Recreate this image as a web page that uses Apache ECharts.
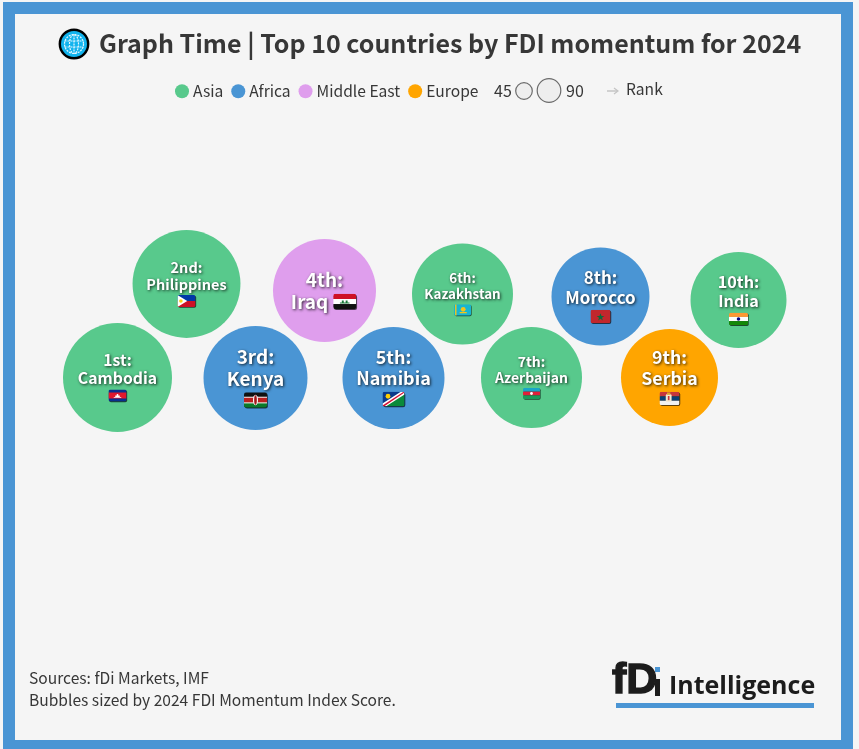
<!DOCTYPE html>
<html>
<head>
<meta charset="utf-8">
<title>Graph Time</title>
<script src="https://cdn.jsdelivr.net/npm/echarts@6/dist/echarts.min.js"></script>
<style>
  html, body { margin: 0; padding: 0; background: #f5f5f5; overflow: hidden; }
  #frame { position: absolute; left: 3px; top: 2px; width: 826px; height: 726px; border: 12px solid #4a95d4; border-bottom-width: 20px; }
  #chart { position: absolute; left: 0; top: 0; width: 859px; height: 749px; }
</style>
</head>
<body>
<div id="frame"></div>
<div id="chart"></div>
<script>
// chart values
var countries = ['Cambodia', 'Philippines', 'Kenya', 'Iraq', 'Namibia', 'Kazakhstan', 'Azerbaijan', 'Morocco', 'Serbia', 'India'];
var ranks = [1, 2, 3, 4, 5, 6, 7, 8, 9, 10];
var rankLabels = ['1st:', '2nd:', '3rd:', '4th:', '5th:', '6th:', '7th:', '8th:', '9th:', '10th:'];
var regions = ['Asia', 'Asia', 'Africa', 'Middle East', 'Africa', 'Asia', 'Asia', 'Africa', 'Europe', 'Asia'];
var scores = [100, 98, 91, 89.3, 87.6, 85.9, 85.9, 80.8, 79.2, 77.6];
var swarmY = [222.5, 316, 222, 309.5, 222, 306, 222.5, 303.5, 222.5, 300];
var regionNames = ['Asia', 'Africa', 'Middle East', 'Europe'];

// styles
var regionColors = { 'Asia': '#58c98c', 'Africa': '#4a95d4', 'Middle East': '#df9eed', 'Europe': '#ffa500' };
var labelFonts = [15.8, 14.5, 19, 19, 18, 13.4, 14, 17, 17.8, 16.2];
var flagWidths = [18, 18, 23, 23, 22, 17, 17, 20, 20, 19];
var textFont = '"Noto Sans CJK SC", "Noto Sans", sans-serif';
var darkText = '#373737';

// little flags, 24x16 with a soft shadow around them
var flagArt = {
  Cambodia: '<rect width="24" height="16" fill="#0a2f8f"/><rect y="4" width="24" height="8" fill="#e0182d"/><path d="M7 10h10v1H7zM9 8h6v2H9zM11 6h2v2h-2z" fill="#fff"/>',
  Philippines: '<rect width="24" height="8" fill="#0038a8"/><rect y="8" width="24" height="8" fill="#ce1126"/><path d="M0 0L13 8L0 16z" fill="#fff"/><circle cx="4.5" cy="8" r="2.4" fill="#fcd116"/>',
  Kenya: '<rect width="24" height="16" fill="#111"/><rect y="5" width="24" height="6" fill="#bb1f1f"/><rect y="11" width="24" height="5" fill="#0a7a2a"/><rect y="4.6" width="24" height="1" fill="#fff"/><rect y="10.5" width="24" height="1" fill="#fff"/><ellipse cx="12" cy="8" rx="2.6" ry="5.5" fill="#fff"/><ellipse cx="12" cy="8" rx="1.4" ry="5" fill="#a01818"/>',
  Iraq: '<rect width="24" height="5.4" fill="#ce1126"/><rect y="5.4" width="24" height="5.3" fill="#fff"/><rect y="10.7" width="24" height="5.3" fill="#111"/><path d="M7 9h10v1H7zM9 7h2v2H9zM13 7h2v2h-2z" fill="#1a7a3a"/>',
  Namibia: '<rect width="24" height="16" fill="#0a3a8a"/><path d="M24 0V16H0z" fill="#0a8a3a"/><path d="M0 13L20 0H24V3L4 16H0z" fill="#fff"/><path d="M0 15L23 0H24V1L2 16H0z" fill="#d21034"/><circle cx="6" cy="5" r="2.6" fill="#ffce00"/>',
  Kazakhstan: '<rect width="24" height="16" fill="#19b5d0"/><rect x="1.5" width="2" height="16" fill="#f5c518"/><circle cx="13" cy="7" r="3.4" fill="#f5c518"/><path d="M8 11h10v1.5H8z" fill="#f5c518"/>',
  Azerbaijan: '<rect width="24" height="5.4" fill="#18a5c8"/><rect y="5.4" width="24" height="5.3" fill="#e0203a"/><rect y="10.7" width="24" height="5.3" fill="#1a9a5a"/><circle cx="12" cy="8" r="2" fill="#fff"/>',
  Morocco: '<rect width="24" height="16" fill="#c1272d"/><path d="M12 4.2l1.2 3.3h3.4l-2.8 2 1 3.3-2.8-2-2.8 2 1-3.3-2.8-2h3.4z" fill="#0a6a3a"/>',
  Serbia: '<rect width="24" height="5.4" fill="#c6363c"/><rect y="5.4" width="24" height="5.3" fill="#0c4076"/><rect y="10.7" width="24" height="5.3" fill="#f2f2f2"/><rect x="7.5" y="3" width="7" height="9" rx="1.5" fill="#f4e9d0"/><rect x="9" y="0.8" width="4" height="2.6" fill="#e0a72a"/><rect x="10" y="5" width="2" height="5" fill="#c6363c"/>',
  India: '<rect width="24" height="5.4" fill="#ff9933"/><rect y="5.4" width="24" height="5.3" fill="#fff"/><rect y="10.7" width="24" height="5.3" fill="#138808"/><circle cx="12" cy="8" r="2.2" fill="#000080"/>'
};

function flagUrl(name){
  var svg = '<svg xmlns="http://www.w3.org/2000/svg" width="84" height="60" viewBox="-2 -2 28 20">'
    + '<defs><filter id="b" x="-20%" y="-20%" width="140%" height="140%"><feGaussianBlur stdDeviation="0.7"/></filter>'
    + '<clipPath id="c"><rect width="24" height="16" rx="2.4"/></clipPath></defs>'
    + '<rect x="0.9" y="0.9" width="24" height="16" rx="2.4" fill="#000" opacity="0.65" filter="url(#b)"/>'
    + '<g clip-path="url(#c)">' + flagArt[name] + '</g></svg>';
  return 'data:image/svg+xml;charset=utf-8,' + encodeURIComponent(svg);
}

function labelFor(i){
  var size = labelFonts[i];
  var w = flagWidths[i] * 28 / 24;
  var lh = Math.round(size * 1.17);
  var shadow = { textShadowColor: 'rgba(0,0,0,0.8)', textShadowBlur: 3, textShadowOffsetX: 1, textShadowOffsetY: 1 };
  var textStyle = Object.assign({ color: '#fff', fontFamily: textFont, fontWeight: 700, fontSize: size, lineHeight: lh }, shadow);
  var inline = countries[i] == 'Iraq';
  var text = '{t|' + rankLabels[i] + '}\n{t|' + countries[i] + '}' + (inline ? '{g| }{f| }' : '\n{f| }');
  return {
    show: true,
    position: 'inside',
    align: 'center',
    verticalAlign: 'middle',
    formatter: text,
    rich: {
      t: textStyle,
      g: { width: 3, fontSize: size, lineHeight: lh },
      f: { width: w, height: w * 20 / 28, lineHeight: w * 20 / 28 + 2, backgroundColor: { image: flagUrl(countries[i]) } }
    }
  };
}

var series = regionNames.map(function(region){
  var data = [];
  for(var i = 0; i < countries.length; i++) {
    if(regions[i] == region) {
      data.push({ name: countries[i], value: [ranks[i], swarmY[i], scores[i]], label: labelFor(i) });
    }
  }
  return {
    name: region,
    type: 'scatter',
    silent: true,
    symbolSize: function(v){ return Math.sqrt(v[2]) * 10.9; },
    itemStyle: { color: regionColors[region], opacity: 1 },
    data: data
  };
});

// title, size key, footer and logo
var graphics = [
  // globe
  { type: 'circle', shape: { cx: 74, cy: 44, r: 14.2 }, style: { fill: '#12b4ee', stroke: '#000', lineWidth: 2.4 } },
  { type: 'circle', shape: { cx: 74, cy: 44, r: 9.5 }, style: { fill: 'none', stroke: '#e6f7ff', lineWidth: 1.2, lineDash: [2, 1] } },
  { type: 'ellipse', shape: { cx: 74, cy: 44, rx: 4.5, ry: 9.5 }, style: { fill: 'none', stroke: '#e6f7ff', lineWidth: 1.2, lineDash: [2, 1] } },
  { type: 'line', shape: { x1: 74, y1: 34.5, x2: 74, y2: 53.5 }, style: { stroke: '#e6f7ff', lineWidth: 1.2, lineDash: [2, 1] } },
  { type: 'line', shape: { x1: 64.5, y1: 41, x2: 83.5, y2: 41 }, style: { stroke: '#e6f7ff', lineWidth: 1.2, lineDash: [2, 1] } },
  { type: 'line', shape: { x1: 64.5, y1: 47, x2: 83.5, y2: 47 }, style: { stroke: '#e6f7ff', lineWidth: 1.2, lineDash: [2, 1] } },
  // size key
  { type: 'text', style: { x: 494, y: 90.5, text: '45', fill: darkText, font: '16px ' + textFont, verticalAlign: 'middle' } },
  { type: 'circle', shape: { cx: 524, cy: 91, r: 8.3 }, style: { fill: '#eeeeee', stroke: '#6b6b6b', lineWidth: 1.2 } },
  { type: 'circle', shape: { cx: 549, cy: 90.5, r: 11.8 }, style: { fill: '#eeeeee', stroke: '#6b6b6b', lineWidth: 1.2 } },
  { type: 'text', style: { x: 566, y: 90.5, text: '90', fill: darkText, font: '16px ' + textFont, verticalAlign: 'middle' } },
  { type: 'line', shape: { x1: 607, y1: 91, x2: 617, y2: 91 }, style: { stroke: '#c4c4c4', lineWidth: 1.5 } },
  { type: 'polyline', shape: { points: [[614, 88], [618, 91], [614, 94]] }, style: { fill: 'none', stroke: '#c4c4c4', lineWidth: 1.2 } },
  { type: 'text', style: { x: 626, y: 89, text: 'Rank', fill: darkText, font: '15.6px ' + textFont, verticalAlign: 'middle' } },
  // footer
  { type: 'text', style: { x: 29, y: 678, text: 'Sources: fDi Markets, IMF', fill: darkText, font: '15.6px ' + textFont, verticalAlign: 'middle' } },
  { type: 'text', style: { x: 29, y: 700, text: 'Bubbles sized by 2024 FDI Momentum Index Score.', fill: darkText, font: '15.6px ' + textFont, verticalAlign: 'middle' } },
  // logo
  { type: 'text', style: { x: 612, y: 681, text: 'fD', fill: '#1c1c1c', font: '700 43px "Liberation Sans", sans-serif', verticalAlign: 'middle', stroke: '#1c1c1c', lineWidth: 1.4 } },
  { type: 'rect', shape: { x: 655, y: 679, width: 5, height: 17 }, style: { fill: '#1c1c1c' } },
  { type: 'rect', shape: { x: 655, y: 667, width: 5, height: 5 }, style: { fill: '#4a95d4' } },
  { type: 'text', style: { x: 669, y: 687, text: 'Intelligence', fill: '#1c1c1c', font: '700 25px "Open Sans", sans-serif', verticalAlign: 'middle' } },
  { type: 'rect', shape: { x: 616, y: 703, width: 198, height: 5 }, style: { fill: '#4a95d4' } }
];

var chart = echarts.init(document.getElementById('chart'), null, { renderer: 'canvas' });
chart.setOption({
  animation: false,
  backgroundColor: 'transparent',
  title: {
    text: 'Graph Time | Top 10 countries by FDI momentum for 2024',
    left: 99,
    top: 31,
    padding: 0,
    textStyle: { color: darkText, fontFamily: textFont, fontWeight: 700, fontSize: 25 }
  },
  legend: {
    data: regionNames,
    left: 175,
    top: 83.5,
    padding: 0,
    icon: 'circle',
    itemWidth: 14,
    itemHeight: 14,
    itemGap: 8,
    selectedMode: false,
    textStyle: { color: darkText, fontFamily: textFont, fontSize: 15.6, padding: [0, 0, 0, -1] }
  },
  grid: { left: 48.5, top: 100, width: 759, height: 500 },
  xAxis: { type: 'value', min: 0, max: 11, show: false },
  yAxis: { type: 'value', min: 0, max: 500, show: false },
  graphic: graphics,
  series: series
});
</script>
</body>
</html>
